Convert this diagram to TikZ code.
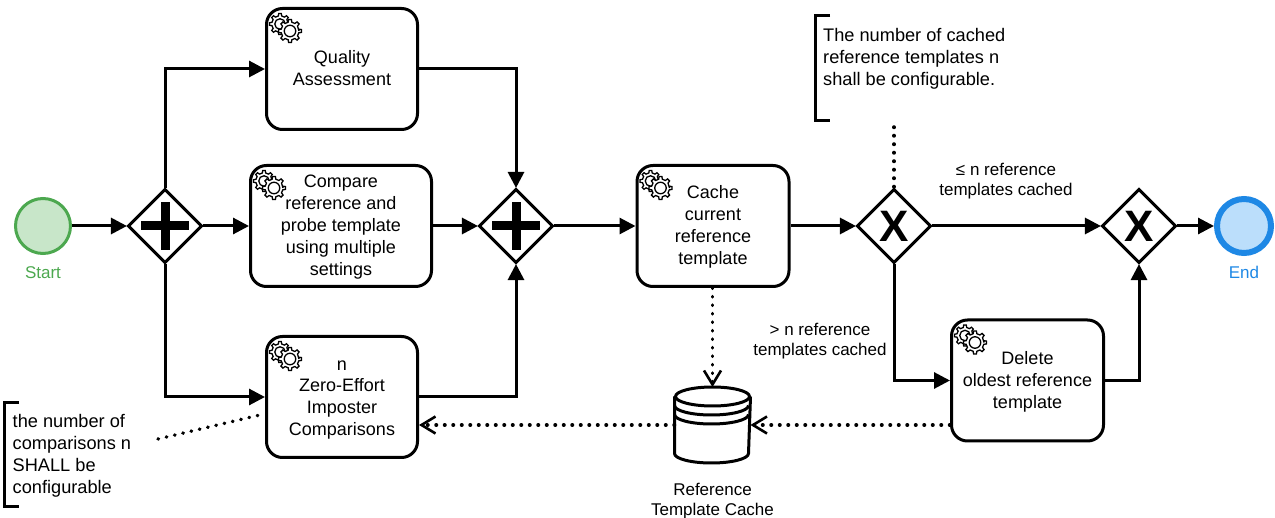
\documentclass[tikz,border=0pt]{standalone}
\usepackage{fontspec}
\setmainfont{Liberation Sans}
\usetikzlibrary{arrows.meta,positioning,shapes.geometric}

\definecolor{startgreen}{HTML}{4CA84F}
\definecolor{startfill}{HTML}{C8E6C9}
\definecolor{endblue}{HTML}{1E88E5}
\definecolor{endfill}{HTML}{BBDEFB}

\newcommand{\tasklines}[1]{\rule{0pt}{16pt}#1\rule[-4pt]{0pt}{4pt}}

\tikzset{
  bigtext/.style={font=\fontsize{18}{22}\selectfont,align=center},
  smalltext/.style={font=\fontsize{17}{20}\selectfont,align=center,inner sep=0pt},
  notetext/.style={font=\fontsize{18.2}{22}\selectfont,align=left,anchor=west,inner sep=0pt},
  task/.style={bigtext,draw,line width=3pt,rounded corners=16pt,fill=white,inner sep=0pt,minimum height=121pt,minimum width=151pt},
  gateway/.style={diamond,draw,line width=3pt,fill=white,inner sep=0pt,outer sep=1.05pt,aspect=1,minimum width=74pt,minimum height=74pt},
  xorgate/.style={gateway,font=\fontsize{44}{44}\selectfont\bfseries},
  flow/.style={line width=3pt,-{Triangle[length=16pt,width=16pt]}},
  dataflow/.style={line width=3.5pt,line cap=round,dash pattern=on 0.5pt off 8pt,-{Straight Barb[length=14pt,width=17pt,line width=2.6pt]}},
  noteline/.style={line width=3.5pt,line cap=round,dash pattern=on 0.5pt off 8pt},
  bracket/.style={line width=3pt},
  cog/.pic={
    \draw[line width=1.3pt,fill=white] (0:#1*.78)
      \foreach \a in {0,45,...,315} {-- (\a-12:#1*.78) -- (\a-7:#1) -- (\a+7:#1) -- (\a+12:#1*.78)} -- cycle;
    \draw[line width=1.3pt] (0,0) circle (#1*.5);
  },
  plusmark/.pic={
    \fill (-24,-4.5) rectangle (24,4.5);
    \fill (-4.5,-24) rectangle (4.5,24);
  }
}

\begin{document}
\begin{tikzpicture}[x=1pt,y=-1pt]
  \useasboundingbox (0,0) rectangle (1275,518);

  % events
  \node[circle,draw=startgreen,fill=startfill,line width=3pt,minimum size=55pt,inner sep=0pt] (start) at (43,226) {};
  \node[circle,draw=endblue,fill=endfill,line width=6pt,minimum size=54pt,inner sep=0pt] (end) at (1244,226) {};
  \node[smalltext,text=startgreen,below=11pt of start] (startlabel) {Start};
  \node[smalltext,text=endblue,below=10pt of end] (endlabel) {End};

  % gateways
  \node[gateway] (split) at (165,226) {};
  \node[gateway] (join) at (516,226) {};
  \node[xorgate] (xorsplit) at (894,226) {X};
  \node[xorgate] (xorjoin) at (1139,226) {X};
  \pic at (split) {plusmark};
  \pic at (join) {plusmark};

  % tasks
  \node[task] (quality) at (342,69) {\tasklines{Quality\\Assessment}};
  \node[task,minimum width=181pt] (compare) at (341,226) {\tasklines{Compare\\reference and\\probe template\\using multiple\\settings}};
  \node[task] (imposter) at (342,397) {\tasklines{n\\Zero-Effort\\Imposter\\Comparisons}};
  \node[task,minimum width=152pt] (cache) at (713,226) {\tasklines{Cache\\current\\reference\\template}};
  \node[task,minimum width=152pt] (delete) at (1027.5,380.5) {\tasklines{Delete\\oldest reference\\template}};
  \foreach \n in {quality,compare,imposter,cache,delete}
    {
      \pic at ([shift={(15,17)}]\n.north west) {cog=10.5};
      \pic at ([shift={(25,24)}]\n.north west) {cog=11.5};
    }

  % data store
  \node[minimum width=76pt,minimum height=76pt,inner sep=0pt,outer sep=0pt] (store) at (712.5,425) {};
  \draw[line width=3pt,fill=white] (store.west |- 0,396.5) -- (store.west |- 0,453.5)
    arc[start angle=180,end angle=0,x radius=37,y radius=9.5] -- (store.east |- 0,396.5);
  \draw[line width=3pt,fill=white] (712.5,396.5) ellipse [x radius=37,y radius=9.5];
  \draw[line width=3pt] (store.west |- 0,405.5) arc[start angle=180,end angle=0,x radius=37,y radius=9.5];
  \draw[line width=3pt] (store.west |- 0,414.5) arc[start angle=180,end angle=0,x radius=37,y radius=9.5];
  \node[smalltext,below=19.5pt of store] (storelabel) {Reference\\Template Cache};

  % sequence flows
  \draw[flow] (start) -- (split);
  \draw[flow] (split) |- (quality);
  \draw[flow] (split) -- (compare);
  \draw[flow] (split) |- (imposter);
  \draw[flow] (quality) -| (join);
  \draw[flow] (compare) -- (join);
  \draw[flow] (imposter) -| (join);
  \draw[flow] (join) -- (cache);
  \draw[flow] (cache) -- (xorsplit);
  \draw[flow] (xorsplit) -- (xorjoin);
  \draw[flow] (xorjoin) -- (end);
  \draw[flow] (xorsplit) |- (delete);
  \draw[flow] (delete) -| (xorjoin);

  % data flows
  \draw[dataflow] (cache.south -| store.north) -- (store.north);
  \draw[dataflow] (delete.west |- store.east) -- (store.east);
  \draw[dataflow] (store.west) -- (imposter.east |- store.west);

  % flow labels
  \node[smalltext] (fewlabel) at (1006,181) {≤ n reference\\templates cached};
  \node[smalltext] (manylabel) at (820,341.5) {> n reference\\templates cached};

  % annotations
  \node[notetext] (cachednote) at (823,58.5) {The number of cached\\reference templates n\\shall be configurable.};
  \draw[bracket] (830,16) -- (815.5,16) -- (815.5,120.5) -- (830,120.5);
  \coordinate (cachednoteend) at (894,127);
  \draw[noteline] (cachednoteend) -- (xorsplit.north);

  \node[notetext] (imposternote) at (12.5,456) {the number of\\comparisons n\\SHALL be\\configurable};
  \draw[bracket] (19,403) -- (4.5,403) -- (4.5,506) -- (19,506);
  \coordinate (imposternoteend) at (158,439);
  \coordinate (imposterdock) at (264,414);
  \draw[noteline] (imposternoteend) -- (imposterdock);
\end{tikzpicture}
\end{document}
